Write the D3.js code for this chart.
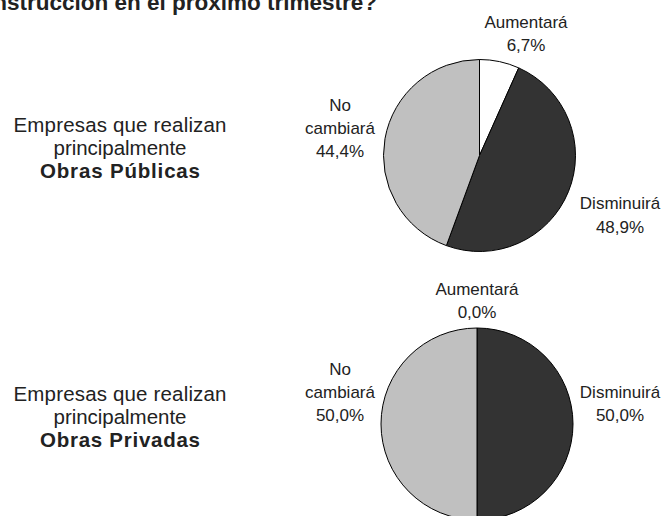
<!DOCTYPE html>
<html>
<head>
<meta charset="utf-8">
<script src="https://cdn.jsdelivr.net/npm/d3@7/dist/d3.min.js"></script>
<style>
  html, body { margin: 0; padding: 0; background: #fff; }
  svg { display: block; font-family: "Liberation Sans", Arial, sans-serif; }
</style>
</head>
<body>
<svg id="chart" width="667" height="516"></svg>
<script>
// ---- data ----
const categories = ["Aumentará", "Disminuirá", "No cambiará"];
const publicasValues = [6.7, 48.9, 44.4];
const privadasValues = [0.0, 50.0, 50.0];
const groupTitles = [
  ["Empresas que realizan", "principalmente", "Obras Públicas"],
  ["Empresas que realizan", "principalmente", "Obras Privadas"]
];
const titleText = "¿Cuál es su expectativa sobre la actividad de la construcción en el próximo trimestre?";
const fills = ["#ffffff", "#333333", "#c0c0c0"];

const svg = d3.select("#chart");
const fmt = v => d3.format(".1f")(v).replace(".", ",") + "%";

// title (clipped at top-left in reference)
svg.append("text")
  .attr("x", 377).attr("y", 9.5)
  .attr("text-anchor", "end")
  .attr("font-weight", "bold")
  .attr("font-size", 22.5)
  .attr("fill", "#222")
  .text(titleText);

const pie = d3.pie().sort(null).value(d => d);
const R = 96;
const arc = d3.arc().innerRadius(0).outerRadius(R);

const groups = [
  { values: publicasValues, cx: 479.5, cy: 155.5, titleY: [132, 155, 178],
    labels: [ {x: 526, y: [28, 51]}, {x: 620, y: [209, 233]}, {x: 340, y: [111, 134, 157]} ] },
  { values: privadasValues, cx: 477, cy: 424, titleY: [401, 424, 447],
    labels: [ {x: 477, y: [295, 318]}, {x: 620, y: [398, 421]}, {x: 340, y: [375, 398, 421]} ] }
];
const titleWidths = [213, 133, 160];

groups.forEach((g, gi) => {
  const gg = svg.append("g").attr("transform", `translate(${g.cx},${g.cy})`);
  gg.selectAll("path")
    .data(pie(g.values))
    .join("path")
    .attr("d", arc)
    .attr("fill", (d, i) => fills[i])
    .attr("stroke", "#000")
    .attr("stroke-width", 1);

  // labels
  categories.forEach((c, i) => {
    const L = g.labels[i];
    const lines = i === 2 ? ["No", "cambiará", fmt(g.values[i])] : [c, fmt(g.values[i])];
    lines.forEach((t, k) => {
      svg.append("text")
        .attr("x", L.x).attr("y", L.y[k])
        .attr("text-anchor", "middle")
        .attr("font-size", 17)
        .attr("fill", "#222")
        .text(t);
    });
  });

  // group titles
  groupTitles[gi].forEach((t, k) => {
    svg.append("text")
      .attr("x", 120).attr("y", g.titleY[k])
      .attr("text-anchor", "middle")
      .attr("font-size", 20.5)
      .attr("font-weight", k === 2 ? "bold" : "normal")
      .attr("fill", "#222")
      .attr("textLength", titleWidths[k])
      .attr("lengthAdjust", "spacing")
      .text(t);
  });
});
</script>
</body>
</html>
